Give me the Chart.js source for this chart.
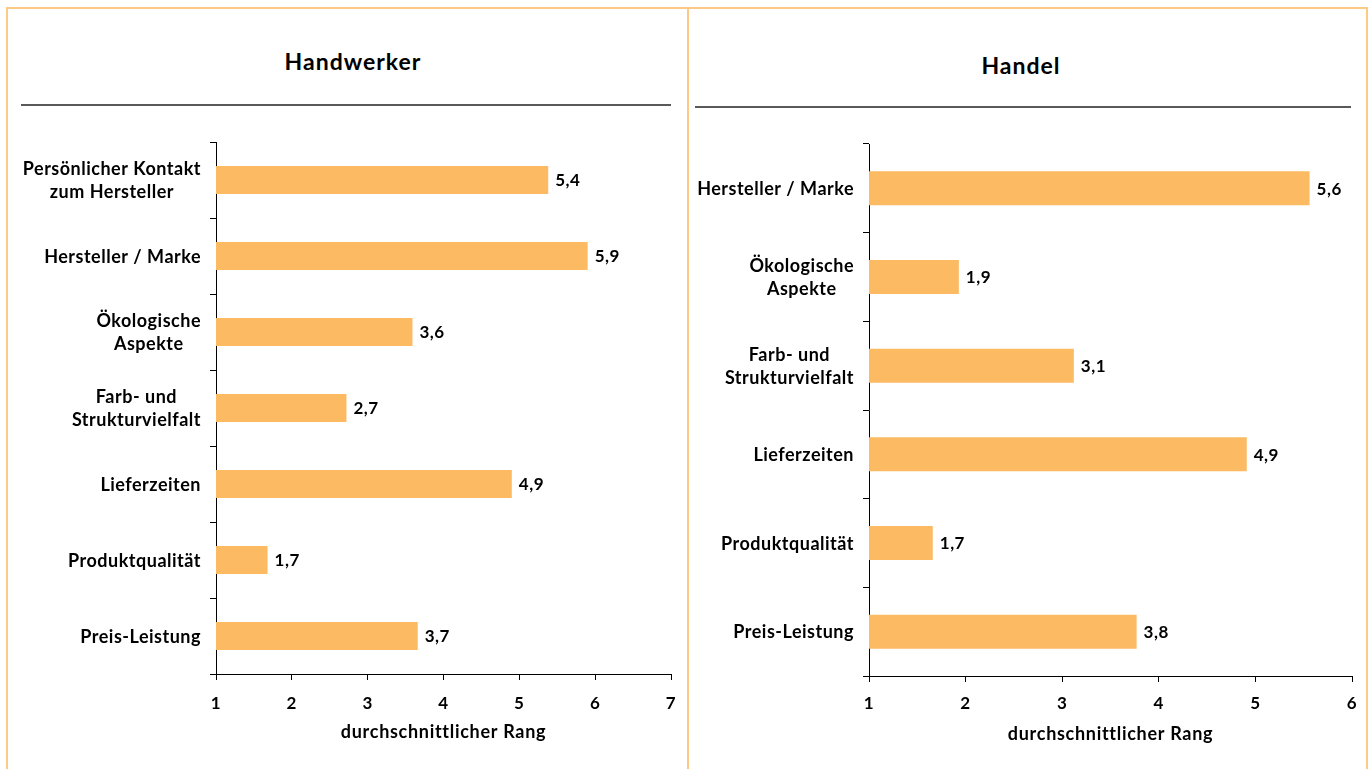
<!DOCTYPE html>
<html>
<head>
<meta charset="utf-8">
<script src="https://cdn.jsdelivr.net/npm/chart.js@4"></script>
<style>
body { margin: 0; background: #fff; width: 1370px; height: 769px; overflow: hidden; position: relative; font-family: Lato, sans-serif; }
.panel { position: absolute; top: 7px; height: 800px; border: 2px solid #fdca85; border-bottom: none; box-sizing: border-box; }
#p1 { left: 6px; width: 683px; }
#p2 { left: 687px; width: 681px; border-left: none; }
.title { position: absolute; font-weight: bold; font-size: 23px; letter-spacing: 1px; color: #000; transform: translate(-50%, -50%); white-space: nowrap; }
.rule { position: absolute; height: 2px; background: #595959; }
canvas { position: absolute; }
</style>
</head>
<body>
<div class="panel" id="p1"></div>
<div class="panel" id="p2"></div>
<div class="title" style="left:353px; top:61px;">Handwerker</div>
<div class="title" style="left:1021px; top:65px;">Handel</div>
<div class="rule" style="left:21px; top:104px; width:650px;"></div>
<div class="rule" style="left:695px; top:106px; width:656px;"></div>
<canvas id="c1" style="left:10px; top:118px;"></canvas>
<canvas id="c2" style="left:690px; top:118px;"></canvas>
<script>
const handwerker_labels = [["Persönlicher Kontakt", "zum Hersteller"], "Hersteller / Marke", ["Ökologische", "Aspekte"],
    ["Farb- und", "Strukturvielfalt"], "Lieferzeiten", "Produktqualität", "Preis-Leistung"];
const handwerker_values = [5.38, 5.90, 3.59, 2.72, 4.90, 1.68, 3.66];

const handel_labels = ["Hersteller / Marke", ["Ökologische", "Aspekte"], ["Farb- und", "Strukturvielfalt"],
    "Lieferzeiten", "Produktqualität", "Preis-Leistung"];
const handel_values = [5.56, 1.93, 3.12, 4.91, 1.66, 3.77];

const x_title = "durchschnittlicher Rang";
const bar_color = "#fcba62";
const font_family = "Lato, sans-serif";

// wider letters, closer to the original typeface
const spacing = {
    id: 'spacing',
    beforeDraw(chart) {
        chart.ctx.letterSpacing = "0.7px";
    }
};

// value labels right of each bar
const value_labels = {
    id: 'value_labels',
    afterDatasetsDraw(chart) {
        const ctx = chart.ctx;
        const meta = chart.getDatasetMeta(0);
        const data = chart.data.datasets[0].data;
        ctx.save();
        ctx.font = "bold 17px " + font_family;
        ctx.letterSpacing = "0.5px";
        ctx.fillStyle = "#000";
        ctx.textAlign = "left";
        ctx.textBaseline = "middle";
        for (let i = 0; i < meta.data.length; i++) {
            const bar = meta.data[i];
            const text = data[i].toFixed(1).replace(".", ",");
            ctx.fillText(text, bar.x + 7, bar.y + 1);
        }
        ctx.restore();
    }
};

// category labels, lines centered among themselves, block right aligned
const category_labels = {
    id: 'category_labels',
    afterDraw(chart) {
        const ctx = chart.ctx;
        const scale = chart.scales.y;
        const labels = chart.data.labels;
        ctx.save();
        ctx.font = "bold 18px " + font_family;
        ctx.letterSpacing = "0.5px";
        ctx.fillStyle = "#000";
        ctx.textAlign = "center";
        ctx.textBaseline = "middle";
        for (let i = 0; i < labels.length; i++) {
            const lines = Array.isArray(labels[i]) ? labels[i] : [labels[i]];
            let w = 0;
            for (const line of lines) {
                w = Math.max(w, ctx.measureText(line).width);
            }
            const cx = scale.right - 15 - w / 2;
            const cy = scale.getPixelForTick(i);
            for (let j = 0; j < lines.length; j++) {
                ctx.fillText(lines[j], cx, cy + 1 + (j - (lines.length - 1) / 2) * 23);
            }
        }
        ctx.restore();
    }
};

function make_chart(id, width, height, labels, values, x_max, y_width, x_height, pad_top, tick_pad, title_pad, bar_pct) {
    const canvas = document.getElementById(id);
    canvas.width = width;
    canvas.height = height;
    canvas.style.width = width + "px";
    canvas.style.height = height + "px";
    return new Chart(canvas.getContext('2d'), {
        type: 'bar',
        data: {
            labels: labels,
            datasets: [{
                data: values,
                backgroundColor: bar_color,
                borderWidth: 0,
                barPercentage: bar_pct,
                categoryPercentage: 1
            }]
        },
        options: {
            indexAxis: 'y',
            responsive: false,
            animation: false,
            devicePixelRatio: 1,
            layout: {
                padding: {top: pad_top, right: 0, left: 0, bottom: 0}
            },
            plugins: {
                legend: {display: false},
                tooltip: {enabled: false}
            },
            scales: {
                x: {
                    min: 1,
                    max: x_max,
                    ticks: {
                        stepSize: 1,
                        padding: tick_pad,
                        color: "#000",
                        font: {family: font_family, size: 17, weight: 'bold'}
                    },
                    grid: {
                        drawOnChartArea: false,
                        drawTicks: true,
                        tickLength: 6,
                        color: "#000"
                    },
                    border: {display: true, color: "#000", width: 1},
                    title: {
                        display: true,
                        text: x_title,
                        color: "#000",
                        padding: {top: 0, bottom: title_pad},
                        font: {family: font_family, size: 18, weight: 'bold'}
                    },
                    afterFit(scale) {
                        scale.height = x_height;
                    }
                },
                y: {
                    ticks: {display: false},
                    grid: {
                        offset: true,
                        drawOnChartArea: false,
                        drawTicks: true,
                        tickLength: 6,
                        color: "#000"
                    },
                    border: {display: true, color: "#000", width: 1},
                    afterFit(scale) {
                        scale.width = y_width;
                    }
                }
            }
        },
        plugins: [spacing, value_labels, category_labels]
    });
}

make_chart('c1', 679, 647, handwerker_labels, handwerker_values, 7, 206, 91, 24, 13, 22, 0.368);
make_chart('c2', 678, 647, handel_labels, handel_values, 6, 179, 89, 26, 11, 20, 0.383);
</script>
</body>
</html>
